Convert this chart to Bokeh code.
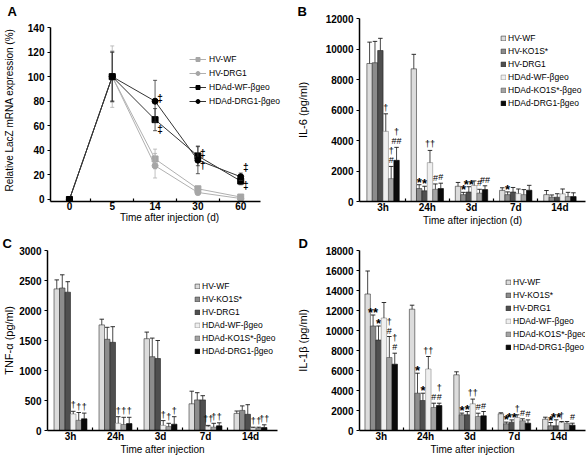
from bokeh.plotting import figure
from bokeh.models import Range1d, FixedTicker, Legend, LegendItem
from bokeh.layouts import column, row
from bokeh.embed import file_html
from bokeh.resources import INLINE
from bokeh.core.properties import value

FONT = "Liberation Sans"

# ---------------- Panel A data ----------------
a_days = ["0", "5", "14", "30", "60"]
a_series = ["HV-WF", "HV-DRG1", "HDAd-WF-βgeo", "HDAd-DRG1-βgeo"]
a_hv_wf = [0, 100, 33, 8.7, 2]
a_hv_wf_err = [0, 25, 8, 2, 1.5]
a_hv_drg1 = [0, 100, 27.5, 5.7, 0.8]
a_hv_drg1_err = [0, 21, 10, 2, 1.5]
a_hdad_wf = [0, 100, 65, 35.5, 15]
a_hdad_wf_err = [0, 20, 9, 8, 3]
a_hdad_drg1 = [0, 100, 80, 32, 18.5]
a_hdad_drg1_err = [0, 20, 17, 11, 3]
a_mark_day = ["14", "14", "30", "30", "60", "60"]
a_mark_y = [82.5, 57, 37.5, 27.5, 26, 11.5]
a_mark_text = ["‡", "‡", "‡", "†", "‡", "‡"]
a_yticks = [0, 20, 40, 60, 80, 100, 120, 140]

# ---------------- Bar panels data ----------------
groups = ["3h", "24h", "3d", "7d", "14d"]
bar_series = ["HV-WF", "HV-KO1S*", "HV-DRG1", "HDAd-WF-βgeo", "HDAd-KO1S*-βgeo", "HDAd-DRG1-βgeo"]

il6_mean = [
    [9050, 8700, 1000, 730, 450],
    [9100, 850, 450, 450, 280],
    [9900, 700, 620, 620, 280],
    [4600, 2550, 1050, 520, 500],
    [1500, 800, 550, 450, 320],
    [2700, 850, 780, 740, 320],
]
il6_err = [
    [1400, 950, 250, 170, 270],
    [1400, 250, 150, 180, 150],
    [800, 300, 350, 300, 230],
    [1150, 800, 300, 300, 320],
    [800, 350, 250, 330, 280],
    [850, 350, 250, 320, 250],
]
il6_sig = [
    ["", "", "", "", ""],
    ["", "*", "*", "*", ""],
    ["", "*", "**", "", ""],
    ["†", "††", "", "", ""],
    ["†\n#", "#", "#", "", ""],
    ["†\n##", "#", "##", "", ""],
]
il6_yticks = [0, 2000, 4000, 6000, 8000, 10000, 12000]

tnf_mean = [
    [2360, 1760, 1530, 445, 285],
    [2375, 1520, 1230, 510, 335],
    [2305, 1470, 1200, 510, 270],
    [275, 120, 85, 65, 45],
    [170, 100, 65, 55, 40],
    [195, 115, 105, 78, 50],
]
tnf_err = [
    [150, 95, 110, 210, 40],
    [220, 200, 310, 120, 75],
    [175, 260, 300, 70, 160],
    [45, 110, 80, 20, 10],
    [130, 120, 55, 65, 15],
    [95, 105, 125, 50, 45],
]
tnf_sig = [
    ["", "", "", "", ""],
    ["", "", "", "", ""],
    ["", "", "", "", ""],
    ["†", "†", "†", "††", "†"],
    ["†", "†", "†", "†", "†"],
    ["†", "†", "†", "†", "††"],
]
tnf_yticks = [0, 500, 1000, 1500, 2000, 2500, 3000]

il1b_mean = [
    [13650, 12130, 5570, 1670, 1130],
    [10450, 3730, 1570, 670, 470],
    [9050, 3000, 1570, 830, 470],
    [11250, 6150, 2670, 1300, 800],
    [7300, 2300, 1400, 970, 730],
    [6630, 2500, 1470, 730, 530],
]
il1b_err = [
    [2300, 400, 300, 100, 200],
    [1100, 2000, 170, 170, 330],
    [1400, 730, 330, 230, 600],
    [1550, 1250, 470, 270, 100],
    [2100, 430, 330, 200, 170],
    [1100, 230, 430, 330, 200],
]
il1b_sig = [
    ["", "", "", "", ""],
    ["**", "*", "*", "*", "*"],
    ["*", "*", "*", "**", "**"],
    ["", "††", "††", "†", "†"],
    ["†\n#", "#", "#", "#", ""],
    ["†\n#", "†\n#", "#", "#", "#"],
]
il1b_yticks = [0, 2000, 4000, 6000, 8000, 10000, 12000, 14000, 16000, 18000]

# ---------------- styling ----------------
BAR_W = 0.122
bar_fill = ["#dcdcdc", "#8c8c8c", "#4f4f4f", "#efefef", "#a3a3a3", "#0a0a0a"]
bar_line = ["#333333", "#333333", "#222222", "#8a8a8a", "#555555", "#000000"]


def base_fig(w, h, bl, br, bt, bb, xr, yr, yticks, xlabels, xtitle, ytitle, ytitle_size,
             ylab_standoff, letter, letter_offset, xbounds="auto", ybounds="auto"):
    p = figure(width=w, height=h, x_range=Range1d(*xr), y_range=Range1d(*yr),
               min_border_left=bl, min_border_right=br, min_border_top=bt, min_border_bottom=bb,
               output_backend="svg", toolbar_location=None)
    p.outline_line_color = None
    p.xgrid.visible = False
    p.ygrid.visible = False
    # panel letter as the plot title
    p.title.text = letter
    p.title.align = "left"
    p.title.offset = letter_offset
    p.title.standoff = 0
    p.title.text_font = FONT
    p.title.text_font_style = "bold"
    p.title.text_font_size = "13px"
    p.title.text_color = "black"
    ya = p.yaxis[0]
    ya.bounds = ybounds
    ya.ticker = FixedTicker(ticks=yticks)
    ya.minor_tick_line_color = None
    ya.major_tick_out = 3
    ya.major_tick_in = 0
    ya.major_label_standoff = 3
    ya.axis_line_width = 1.5
    ya.major_tick_line_width = 1.2
    ya.major_label_text_font = FONT
    ya.major_label_text_font_style = "bold"
    ya.major_label_text_font_size = "10px"
    ya.major_label_text_color = "black"
    ya.axis_label = ytitle
    ya.axis_label_standoff = ylab_standoff
    ya.axis_label_text_font = FONT
    ya.axis_label_text_font_style = "normal"
    ya.axis_label_text_font_size = ytitle_size
    ya.axis_label_text_color = "black"
    xa = p.xaxis[0]
    xa.bounds = xbounds
    xa.ticker = FixedTicker(ticks=list(range(len(xlabels))),
                            minor_ticks=[k + 0.5 for k in range(len(xlabels) - 1)])
    xa.major_label_overrides = {k: lab for k, lab in enumerate(xlabels)}
    xa.major_tick_out = 0
    xa.major_tick_in = 0
    xa.minor_tick_in = 3
    xa.minor_tick_out = 0
    xa.minor_tick_line_width = 1.2
    xa.axis_line_width = 1.5
    xa.major_label_standoff = 0
    xa.major_label_text_font = FONT
    xa.major_label_text_font_style = "bold"
    xa.major_label_text_font_size = "10px"
    xa.major_label_text_color = "black"
    xa.axis_label = xtitle
    xa.axis_label_standoff = -1
    xa.axis_label_text_font = FONT
    xa.axis_label_text_font_style = "normal"
    xa.axis_label_text_font_size = "10px"
    xa.axis_label_text_color = "black"
    return p


def add_legend(p, items, loc, gw, gh, lh, sp, standoff):
    lg = Legend(items=items, location=loc, orientation="vertical", padding=0, margin=0,
                spacing=sp, glyph_width=gw, glyph_height=gh, label_height=lh,
                label_standoff=standoff, label_text_font=FONT, label_text_font_size="8.5px",
                label_text_color="black", border_line_color=None, background_fill_alpha=0)
    p.add_layout(lg)


def draw_bars(p, mean, err, sig):
    n = len(bar_series)
    items = []
    for i, name in enumerate(bar_series):
        xs = [g + (i - (n - 1) / 2) * BAR_W for g in range(len(groups))]
        tops = mean[i]
        ups = [m + e for m, e in zip(mean[i], err[i])]
        r = p.vbar(x=xs, top=tops, bottom=0, width=BAR_W, fill_color=bar_fill[i],
                   line_color=bar_line[i], line_width=0.6)
        p.segment(x0=xs, y0=tops, x1=xs, y1=ups, line_color="#1a1a1a", line_width=0.8)
        p.scatter(x=xs, y=ups, marker="dash", size=4.5, line_color="#1a1a1a", line_width=0.9)
        star = [s.startswith("*") for s in sig[i]]
        p.text(x=xs, y=ups, text=sig[i],
               y_offset=[5 if st else -1 for st in star],
               text_font_size=["13px" if st else "9px" for st in star],
               text_font_style=["bold" if st else "normal" for st in star],
               text_align="center", text_baseline="bottom", text_font=value(FONT),
               text_color="black", text_line_height=0.9)
        items.append(LegendItem(label=name, renderers=[r]))
    return items


# ---------------- Panel A ----------------
pa = base_fig(293, 233, 49, 5, 18, 32, (-0.442, 5.116), (-1.63, 147.33), a_yticks, a_days,
              "Time after injection (d)", "Relative LacZ mRNA expression (%)", "10px", 10,
              "A", -43, xbounds=(-0.442, 4.47), ybounds=(-1.63, 140))
ax = list(range(len(a_days)))
a_specs = [
    (a_hv_wf, a_hv_wf_err, "square", "#a6a6a6", "#b0b0b0"),
    (a_hv_drg1, a_hv_drg1_err, "circle", "#a6a6a6", "#b0b0b0"),
    (a_hdad_wf, a_hdad_wf_err, "square", "#000000", "#333333"),
    (a_hdad_drg1, a_hdad_drg1_err, "circle", "#000000", "#333333"),
]
a_items = []
for name, (vals, errs, mk, mcol, lcol) in zip(a_series, a_specs):
    ex = [x for x, e in zip(ax, errs) if e > 0]
    lo = [v - e for v, e in zip(vals, errs) if e > 0]
    hi = [v + e for v, e in zip(vals, errs) if e > 0]
    pa.segment(x0=ex, y0=lo, x1=ex, y1=hi, line_color=lcol, line_width=0.8)
    pa.scatter(x=ex + ex, y=lo + hi, marker="dash", size=4, line_color=lcol, line_width=0.8)
    lr = pa.line(ax, vals, line_color=lcol, line_width=1.0)
    mr = pa.scatter(ax, vals, marker=mk, size=6, fill_color=mcol, line_color=mcol)
    a_items.append(LegendItem(label=name, renderers=[lr, mr]))
pa.text(x=[a_days.index(d) for d in a_mark_day], y=a_mark_y, text=a_mark_text, x_offset=5,
        text_align="center", text_baseline="middle", text_font=value(FONT),
        text_font_size="10px", text_font_style="bold", text_color="black")
add_legend(pa, a_items, (139, 94), 17, 10, 12, 2, 3)

# ---------------- Panel B ----------------
pb = base_fig(293, 233, 62, 1, 18, 32, (-0.533, 4.578), (0, 12000), il6_yticks, groups,
              "Time after injection (d)", "IL-6 (pg/ml)", "11px", 14, "B", -62)
b_items = draw_bars(pb, il6_mean, il6_err, il6_sig)
add_legend(pb, b_items, (141, 92), 6, 6, 12, 1, 2)

# ---------------- Panel C ----------------
pc = base_fig(293, 230, 47, 16, 16, 33, (-0.511, 4.6), (0, 3000), tnf_yticks, groups,
              "Time after injection", "TNF-α (pg/ml)", "11px", 1, "C", -45)
c_items = draw_bars(pc, tnf_mean, tnf_err, tnf_sig)
add_legend(pc, c_items, (147, 73), 6, 6, 12, 1, 2)

# ---------------- Panel D ----------------
pd_ = base_fig(293, 230, 63, 1, 16, 33, (-0.489, 4.6), (0, 18000), il1b_yticks, groups,
               "Time after injection", "IL-1β (pg/ml)", "11px", 14, "D", -61)
d_items = draw_bars(pd_, il1b_mean, il1b_err, il1b_sig)
add_legend(pd_, d_items, (146, 77), 6, 6, 12, 1, 2)

layout = column(row(pa, pb), row(pc, pd_))
open("out.html", "w").write(file_html(layout, INLINE))
